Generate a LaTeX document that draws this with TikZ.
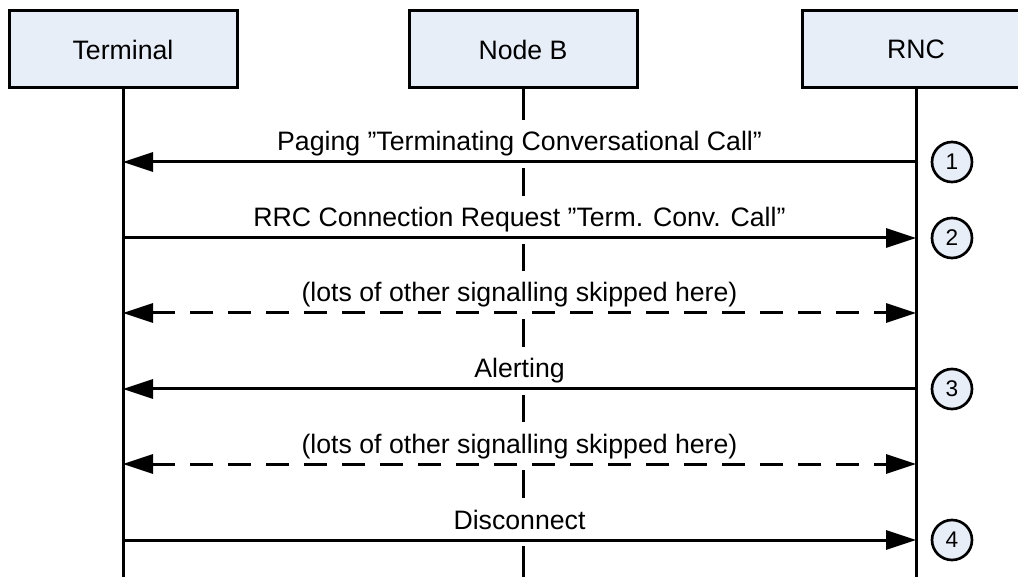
\documentclass[tikz,border=0pt]{standalone}
\usepackage{fontspec}
\setmainfont{Liberation Sans}
\usetikzlibrary{arrows.meta,positioning}
\definecolor{boxfill}{RGB}{232,238,248}

\tikzset{
  actor/.style={draw, line width=2.25pt, fill=boxfill, minimum width=171pt,
    minimum height=57.75pt, font=\fontsize{20}{24}\selectfont},
  lifeline/.style={line width=2.25pt},
  msg/.style={line width=2.25pt, -{Triangle[length=22.5pt,width=14.25pt]}},
  both/.style={msg, {Triangle[length=22.5pt,width=14.25pt]}-{Triangle[length=22.5pt,width=14.25pt]},
    dash pattern=on 17pt off 11.5pt},
  msglabel/.style={behind path, fill=white, inner xsep=2pt, inner ysep=8pt,
    text height=15pt, text depth=4.5pt, anchor=base, yshift=8.25pt,
    font=\fontsize{20}{24}\selectfont},
  num/.style={circle, draw, line width=2pt, fill=boxfill, minimum size=30pt,
    inner sep=0pt, font=\fontsize{17}{20}\selectfont}
}

\begin{document}
\begin{tikzpicture}[x=0.75pt, y=-0.75pt]
  \useasboundingbox (0,0) rectangle (1018,577);
  \clip (0,0) rectangle (1018,577);

  % participants
  \node[actor] (term) at (123,49.5) {Terminal};
  \node[actor] (nodeb) at (523,49.5) {Node B};
  \node[actor] (rnc) at (916,49.5) {RNC};

  \coordinate (term end) at (123,577);
  \coordinate (nodeb end) at (523,577);
  \coordinate (rnc end) at (916,577);
  \draw[lifeline] (term) -- (term end);
  \draw[lifeline] (nodeb) -- (nodeb end);
  \draw[lifeline] (rnc) -- (rnc end);

  % message levels on the lifelines
  \foreach \i/\y in {1/162,2/238,3/313,4/389,5/464,6/540} {
    \coordinate (t\i) at (123,\y);
    \coordinate (r\i) at (916,\y);
  }

  \draw[msg] (r1) -- node[msglabel] (m1) {Paging ”Terminating Conversational Call”} (t1);
  \draw[msg] (t2) -- node[msglabel] (m2) {RRC Connection Request ”Term. Conv. Call”} (r2);
  \draw[both] (t3) -- node[msglabel] (m3) {(lots of other signalling skipped here)} (r3);
  \draw[msg] (r4) -- node[msglabel] (m4) {Alerting} (t4);
  \draw[both] (t5) -- node[msglabel] (m5) {(lots of other signalling skipped here)} (r5);
  \draw[msg] (t6) -- node[msglabel] (m6) {Disconnect} (r6);

  % step numbers
  \foreach \i/\k in {1/1,2/2,4/3,6/4}
    \node[num, right=11pt of r\i] (n\k) {\k};
\end{tikzpicture}
\end{document}
